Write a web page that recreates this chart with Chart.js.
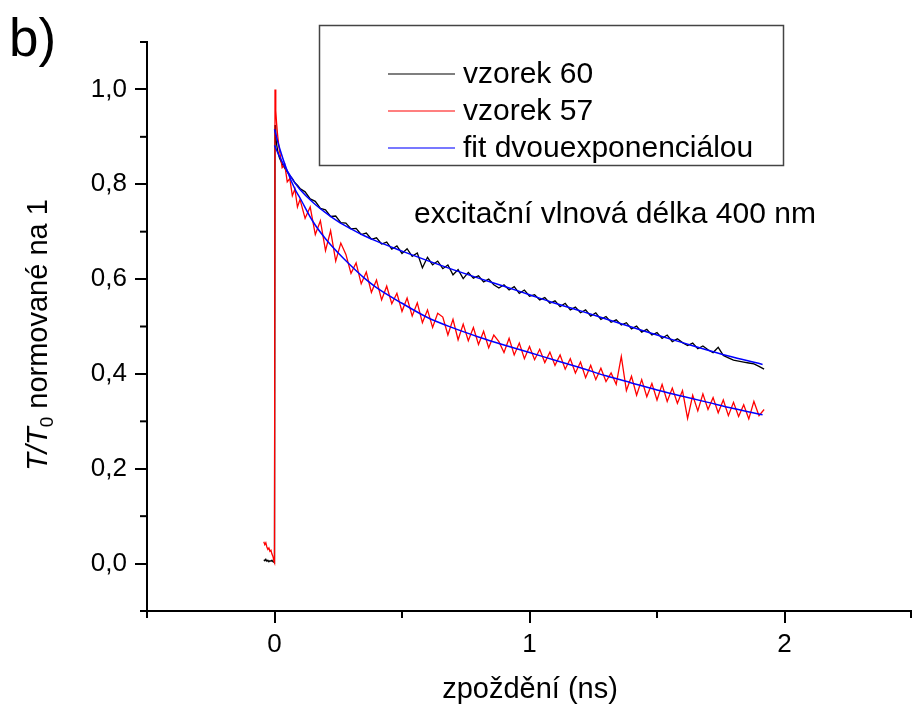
<!DOCTYPE html>
<html>
<head>
<meta charset="utf-8">
<script src="https://cdn.jsdelivr.net/npm/chart.js@4/dist/chart.umd.min.js"></script>
<style>
    html, body { margin: 0; padding: 0; background: #fff; }
    #wrap { width: 912px; height: 706px; }
</style>
</head>
<body>
<div id="wrap"><canvas id="chart" width="912" height="706"></canvas></div>
<script>
// measured delay times (ns), shared by both samples
const times = [
    -0.042, -0.038, -0.034, -0.030, -0.026, -0.022, -0.018, -0.014, -0.010, -0.006, -0.002, 0.000,
    0.002, 0.005, 0.008, 0.012, 0.016, 0.02, 0.03, 0.04, 0.05, 0.06, 0.07, 0.08, 0.09, 0.10,
    0.12, 0.14, 0.16, 0.18, 0.20, 0.22, 0.24, 0.26, 0.28, 0.30,
    0.32, 0.34, 0.36, 0.38, 0.40, 0.42, 0.44, 0.46, 0.48, 0.50,
    0.52, 0.54, 0.56, 0.58, 0.60, 0.62, 0.64, 0.66, 0.68, 0.70,
    0.72, 0.74, 0.76, 0.78, 0.80, 0.82, 0.84, 0.86, 0.88, 0.90,
    0.92, 0.94, 0.96, 0.98, 1.00, 1.02, 1.04, 1.06, 1.08, 1.10,
    1.12, 1.14, 1.16, 1.18, 1.20, 1.22, 1.24, 1.26, 1.28, 1.30,
    1.32, 1.34, 1.36, 1.38, 1.40, 1.42, 1.44, 1.46, 1.48, 1.50,
    1.52, 1.54, 1.56, 1.58, 1.60, 1.62, 1.64, 1.66, 1.68, 1.70,
    1.72, 1.74, 1.76, 1.78, 1.80, 1.82, 1.84, 1.86, 1.88, 1.90,
    1.92
];

const vzorek60 = [
    0.008, 0.006, 0.009, 0.005, 0.007, 0.004, 0.006, 0.005, 0.007, 0.004, 0.003, 0.002,
    0.925, 0.900, 0.885, 0.872, 0.862, 0.855, 0.843, 0.834, 0.826, 0.818, 0.812, 0.803, 0.798, 0.791,
    0.784, 0.769, 0.764, 0.749, 0.746, 0.732, 0.733, 0.719, 0.718, 0.706,
    0.707, 0.694, 0.697, 0.684, 0.687, 0.674, 0.678, 0.663, 0.670, 0.654,
    0.664, 0.648, 0.655, 0.624, 0.646, 0.630, 0.638, 0.622, 0.630, 0.609,
    0.620, 0.601, 0.614, 0.602, 0.607, 0.594, 0.600, 0.588, 0.581, 0.588,
    0.577, 0.584, 0.570, 0.577, 0.564, 0.567, 0.556, 0.561, 0.549, 0.554,
    0.542, 0.549, 0.535, 0.541, 0.529, 0.535, 0.522, 0.529, 0.515, 0.521,
    0.509, 0.514, 0.503, 0.508, 0.495, 0.501, 0.488, 0.494, 0.482, 0.487,
    0.475, 0.482, 0.468, 0.474, 0.466, 0.460, 0.465, 0.453, 0.459, 0.451,
    0.445, 0.456, 0.439, 0.434, 0.429, 0.427, 0.425, 0.423, 0.421, 0.416,
    0.410
];

const vzorek57 = [
    0.046, 0.040, 0.044, 0.035, 0.030, 0.033, 0.026, 0.028, 0.020, 0.015, 0.005, 0.002,
    1.000, 0.955, 0.930, 0.905, 0.885, 0.870, 0.835, 0.842, 0.805, 0.812, 0.776, 0.790, 0.752, 0.768,
    0.728, 0.752, 0.694, 0.723, 0.660, 0.702, 0.638, 0.676, 0.652, 0.612,
    0.634, 0.590, 0.615, 0.572, 0.598, 0.556, 0.585, 0.548, 0.570, 0.532,
    0.560, 0.522, 0.550, 0.508, 0.535, 0.498, 0.528, 0.520, 0.482, 0.515,
    0.472, 0.505, 0.470, 0.498, 0.462, 0.490, 0.455, 0.482, 0.468, 0.445,
    0.475, 0.440, 0.465, 0.432, 0.458, 0.430, 0.452, 0.424, 0.446, 0.418,
    0.440, 0.410, 0.432, 0.402, 0.425, 0.392, 0.418, 0.388, 0.412, 0.384,
    0.402, 0.378, 0.437, 0.365, 0.395, 0.355, 0.388, 0.352, 0.380, 0.345,
    0.378, 0.342, 0.370, 0.338, 0.365, 0.306, 0.355, 0.322, 0.358, 0.325,
    0.350, 0.318, 0.345, 0.312, 0.340, 0.310, 0.335, 0.305, 0.342, 0.312,
    0.325
];

// biexponential fits, sampled
const fitTimes = [0, 0.02, 0.05, 0.08, 0.1, 0.15, 0.2, 0.25, 0.3, 0.35, 0.4, 0.5, 0.6, 0.7, 0.8, 0.9,
    1.0, 1.1, 1.2, 1.3, 1.4, 1.5, 1.6, 1.7, 1.8, 1.914];
const fit60 = [0.882, 0.858, 0.828, 0.803, 0.789, 0.762, 0.740, 0.721, 0.706, 0.692, 0.680, 0.659, 0.639,
    0.620, 0.602, 0.585, 0.567, 0.549, 0.533, 0.516, 0.499, 0.482, 0.466, 0.450, 0.435, 0.420];
const fit57 = [0.916, 0.876, 0.828, 0.790, 0.771, 0.722, 0.685, 0.655, 0.628, 0.603, 0.582, 0.549, 0.519,
    0.497, 0.478, 0.461, 0.445, 0.429, 0.413, 0.396, 0.381, 0.366, 0.353, 0.340, 0.327, 0.314];

const xMajorTicks = [0, 1, 2];
const xMinorTicks = [-0.5, 0.5, 1.5, 2.5];
const yMajorTicks = [0, 0.2, 0.4, 0.6, 0.8, 1.0];
const yMinorTicks = [-0.1, 0.1, 0.3, 0.5, 0.7, 0.9, 1.1];

const legendLabels = ['vzorek 60', 'vzorek 57', 'fit dvouexponenciálou'];
const legendColors = ['#000000', '#ff0000', '#7878ff'];

const FONT = "'Liberation Sans', Arial, sans-serif";

const toPoints = (xs, ys) => xs.map((x, i) => ({ x: x, y: ys[i] }));

const decorations = {
    id: 'decorations',
    afterDraw(chart) {
        const ctx = chart.ctx;
        const xs = chart.scales.x;
        const ys = chart.scales.y;
        const area = chart.chartArea;

        ctx.save();
        ctx.strokeStyle = '#000';
        ctx.lineWidth = 2;

        // minor ticks
        xMinorTicks.forEach(v => {
            if (v < xs.min || v > xs.max) return;
            const px = Math.min(xs.getPixelForValue(v), chart.width - 1);
            ctx.beginPath();
            ctx.moveTo(px, area.bottom);
            ctx.lineTo(px, area.bottom + 7);
            ctx.stroke();
        });
        yMinorTicks.forEach(v => {
            const py = ys.getPixelForValue(v);
            ctx.beginPath();
            ctx.moveTo(area.left - 7, py);
            ctx.lineTo(area.left, py);
            ctx.stroke();
        });

        // legend box
        ctx.lineWidth = 1.5;
        ctx.strokeStyle = '#444';
        ctx.strokeRect(319.5, 25.5, 464, 140);
        ctx.textBaseline = 'middle';
        ctx.textAlign = 'left';
        ctx.fillStyle = '#000';
        ctx.font = '30px ' + FONT;
        const rows = [74, 111, 148];
        legendLabels.forEach((label, i) => {
            ctx.strokeStyle = legendColors[i];
            ctx.lineWidth = i === 2 ? 2 : 1.2;
            ctx.beginPath();
            ctx.moveTo(388, rows[i]);
            ctx.lineTo(455, rows[i]);
            ctx.stroke();
            ctx.fillText(label, 463, rows[i] + 1);
        });

        // annotation
        ctx.fillText('excitační vlnová délka 400 nm', 414, 215);

        // panel label
        ctx.font = '53px ' + FONT;
        ctx.textBaseline = 'alphabetic';
        ctx.fillText('b)', 9, 56);

        // x title
        ctx.font = '29px ' + FONT;
        ctx.textAlign = 'center';
        ctx.fillText('zpoždění (ns)', 530, 698);

        // y title: italic T/T with subscript 0
        ctx.translate(47, 335);
        ctx.rotate(-Math.PI / 2);
        ctx.textAlign = 'left';
        const fItal = 'italic 29px ' + FONT;
        const fSub = '19px ' + FONT;
        const fReg = '29px ' + FONT;
        ctx.font = fItal; const w1 = ctx.measureText('T/T').width;
        ctx.font = fSub; const w2 = ctx.measureText('0').width;
        ctx.font = fReg; const w3 = ctx.measureText(' normované na 1').width;
        let x0 = -(w1 + w2 + w3) / 2;
        ctx.font = fItal; ctx.fillText('T/T', x0, 0); x0 += w1;
        ctx.font = fSub; ctx.fillText('0', x0, 6); x0 += w2;
        ctx.font = fReg; ctx.fillText(' normované na 1', x0, 0);

        ctx.restore();
    }
};

new Chart(document.getElementById('chart'), {
    type: 'line',
    data: {
        datasets: [
            {
                label: 'fit 60',
                data: toPoints(fitTimes, fit60),
                borderColor: '#0000ff',
                borderWidth: 1.5,
                cubicInterpolationMode: 'monotone',
                order: 0
            },
            {
                label: 'fit 57',
                data: toPoints(fitTimes, fit57),
                borderColor: '#0000ff',
                borderWidth: 1.5,
                cubicInterpolationMode: 'monotone',
                order: 0
            },
            {
                label: legendLabels[1],
                data: toPoints(times, vzorek57),
                borderColor: '#ff0000',
                borderWidth: 1.3,
                order: 1
            },
            {
                label: legendLabels[0],
                data: toPoints(times, vzorek60),
                borderColor: '#000000',
                borderWidth: 1.3,
                order: 2
            }
        ]
    },
    options: {
        responsive: false,
        animation: false,
        layout: { padding: { top: 42, right: 0, left: 0, bottom: 0 } },
        elements: { point: { radius: 0 }, line: { tension: 0, fill: false } },
        plugins: {
            legend: { display: false },
            tooltip: { enabled: false }
        },
        scales: {
            x: {
                type: 'linear',
                min: -0.5,
                max: 2.5,
                afterFit: s => { s.height = 95; },
                afterBuildTicks: s => { s.ticks = xMajorTicks.map(v => ({ value: v })); },
                border: { display: true, color: '#000', width: 2 },
                grid: { drawOnChartArea: false, drawTicks: true, tickLength: 12, color: '#000', lineWidth: 2 },
                ticks: {
                    color: '#000',
                    padding: 6,
                    maxRotation: 0,
                    font: { family: FONT, size: 26 },
                    callback: v => String(v)
                }
            },
            y: {
                type: 'linear',
                min: -0.1,
                max: 1.1,
                afterFit: s => { s.width = 147; },
                afterBuildTicks: s => { s.ticks = yMajorTicks.map(v => ({ value: v })); },
                border: { display: true, color: '#000', width: 2 },
                grid: { drawOnChartArea: false, drawTicks: true, tickLength: 12, color: '#000', lineWidth: 2 },
                ticks: {
                    color: '#000',
                    padding: 8,
                    font: { family: FONT, size: 26 },
                    callback: v => v.toFixed(1).replace('.', ',')
                }
            }
        }
    },
    plugins: [decorations]
});
</script>
</body>
</html>
